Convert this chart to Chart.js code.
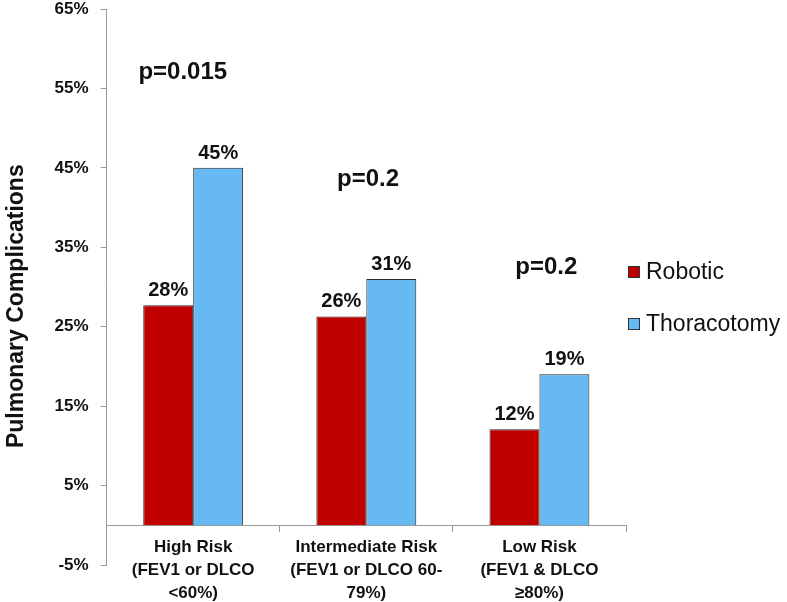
<!DOCTYPE html>
<html>
<head>
<meta charset="utf-8">
<script src="https://cdn.jsdelivr.net/npm/chart.js@4/dist/chart.umd.min.js"></script>
<style>
  html, body { margin: 0; padding: 0; background: #fff; }
</style>
</head>
<body>
<canvas id="chart" width="787" height="602"></canvas>
<script>
// chart data
const categories = [
  ["High Risk", "(FEV1 or DLCO", "<60%)"],
  ["Intermediate Risk", "(FEV1 or DLCO 60-", "79%)"],
  ["Low Risk", "(FEV1 & DLCO", "\u226580%)"]
];
const robotic = [27.7, 26.3, 12.1];
const thoracotomy = [45, 31, 19];
const pValues = ["p=0.015", "p=0.2", "p=0.2"];
const pValueY = [57, 43.5, 32.5];
const pValueShift = [-0.06, 0.01, 0.04]; // fraction of a category

const FONT = "'Liberation Sans', Arial, sans-serif";

// value labels above bars
const barLabels = {
  id: "barLabels",
  afterDatasetsDraw(chart) {
    const ctx = chart.ctx;
    ctx.save();
    ctx.font = "bold 20px " + FONT;
    ctx.fillStyle = "#111";
    ctx.textAlign = "center";
    ctx.textBaseline = "alphabetic";
    chart.data.datasets.forEach((ds, i) => {
      chart.getDatasetMeta(i).data.forEach((bar, j) => {
        ctx.fillText(Math.round(ds.data[j]) + "%", bar.x, bar.y - 9);
      });
    });
    ctx.restore();
  }
};

// p values placed by category and value
const pLabels = {
  id: "pLabels",
  afterDatasetsDraw(chart) {
    const ctx = chart.ctx;
    const x = chart.scales.x, y = chart.scales.y;
    const catWidth = x.width / categories.length;
    ctx.save();
    ctx.font = "bold 24px " + FONT;
    ctx.fillStyle = "#111";
    ctx.textAlign = "center";
    ctx.textBaseline = "middle";
    pValues.forEach((t, i) => {
      const px = x.getPixelForValue(i) + pValueShift[i] * catWidth;
      ctx.fillText(t, px, y.getPixelForValue(pValueY[i]));
    });
    ctx.restore();
  }
};

// legend on the right
const sideLegend = {
  id: "sideLegend",
  afterDraw(chart) {
    const ctx = chart.ctx;
    const left = chart.chartArea.right + 2;
    ctx.save();
    ctx.font = "23px " + FONT;
    ctx.textBaseline = "middle";
    ctx.textAlign = "left";
    chart.data.datasets.forEach((ds, i) => {
      const cy = 272 + i * 52;
      ctx.fillStyle = ds.backgroundColor;
      ctx.fillRect(left, cy - 6, 12, 12);
      ctx.strokeStyle = "#333";
      ctx.lineWidth = 1;
      ctx.strokeRect(left + 0.5, cy - 5.5, 11, 11);
      ctx.fillStyle = "#111";
      ctx.fillText(ds.label, left + 18, cy + 1);
    });
    ctx.restore();
  }
};

new Chart(document.getElementById("chart"), {
  type: "bar",
  data: {
    labels: categories,
    datasets: [
      {
        label: "Robotic",
        data: robotic,
        backgroundColor: "#C00000",
        borderColor: "#2a2a2a",
        borderWidth: 1,
        categoryPercentage: 0.577,
        barPercentage: 1
      },
      {
        label: "Thoracotomy",
        data: thoracotomy,
        backgroundColor: "#66B9F2",
        borderColor: "#2a2a2a",
        borderWidth: 1,
        categoryPercentage: 0.577,
        barPercentage: 1
      }
    ]
  },
  options: {
    responsive: false,
    animation: false,
    layout: { padding: { left: 0, right: 161, top: 9, bottom: 37 } },
    plugins: {
      legend: { display: false },
      tooltip: { enabled: false }
    },
    scales: {
      x: {
        position: { y: 0 },
        grid: { drawOnChartArea: false, tickLength: 6, color: "#9a9a9a" },
        border: { color: "#9a9a9a" },
        ticks: {
          color: "#111",
          padding: 5,
          maxRotation: 0,
          font: { family: FONT, size: 17, weight: "bold", lineHeight: 1.353 }
        }
      },
      y: {
        min: -5,
        max: 65,
        afterFit: (s) => { s.paddingTop = 0; s.paddingBottom = 0; },
        grid: { drawOnChartArea: false, tickLength: 6, color: "#9a9a9a" },
        border: { color: "#9a9a9a" },
        ticks: {
          stepSize: 10,
          color: "#111",
          padding: 12,
          font: { family: FONT, size: 17, weight: "bold" },
          callback: (v) => v + "%"
        },
        title: {
          display: true,
          // trailing spaces nudge the rotated title down to where the original sits
          text: "Pulmonary Complications      ",
          color: "#111",
          padding: { top: 3, bottom: 12 },
          font: { family: FONT, size: 23, weight: "bold" }
        }
      }
    }
  },
  plugins: [barLabels, pLabels, sideLegend]
});
</script>
</body>
</html>
